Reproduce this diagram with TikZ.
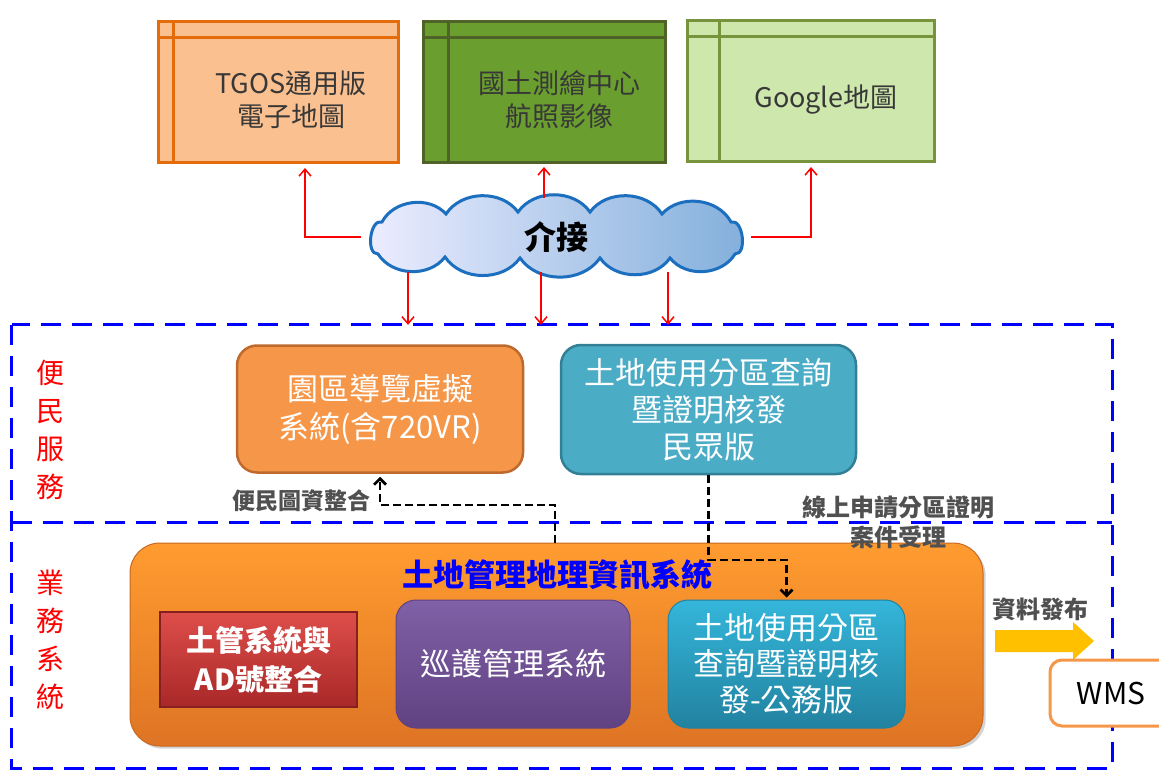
\documentclass[tikz,border=0pt]{standalone}
\usepackage{fontspec}
\setmainfont{Noto Sans CJK TC}
\usepackage{xcolor}
\usetikzlibrary{shapes,arrows,arrows.meta,positioning,shapes.geometric,shadows}

\definecolor{tgosfill}{RGB}{250,192,143}
\definecolor{tgosline}{RGB}{228,108,10}
\definecolor{aerfill}{RGB}{106,158,46}
\definecolor{aerline}{RGB}{79,98,40}
\definecolor{goofill}{RGB}{205,231,172}
\definecolor{gooline}{RGB}{119,147,60}
\definecolor{vrfill}{RGB}{246,150,72}
\definecolor{vrline}{RGB}{190,105,45}
\definecolor{landfill}{RGB}{75,172,198}
\definecolor{landline}{RGB}{49,128,150}
\definecolor{gistop}{RGB}{255,156,48}
\definecolor{gisbot}{RGB}{222,116,36}
\definecolor{adtop}{RGB}{222,78,74}
\definecolor{adbot}{RGB}{168,40,40}
\definecolor{pattop}{RGB}{128,96,166}
\definecolor{patbot}{RGB}{96,66,130}
\definecolor{govtop}{RGB}{52,182,218}
\definecolor{govbot}{RGB}{34,130,160}
\definecolor{cloudline}{RGB}{28,110,190}
\definecolor{pubyellow}{RGB}{255,192,0}
\definecolor{labelgray}{RGB}{80,80,80}

\begin{document}
\begin{tikzpicture}[x=1pt,y=-1pt,
    win/.style={rectangle, line width=3, minimum width=240, minimum height=141},
    wintext/.style={align=center, text=black!78, font=\fontsize{27}{33}\selectfont},
    sysbox/.style={rectangle, rounded corners=20, line width=2.5, align=center,
        text=white, font=\fontsize{31}{37}\selectfont},
    redarrow/.style={red, line width=1.5, -{Straight Barb[length=7pt,width=12pt]}},
    bluedash/.style={blue, line width=3, dash pattern=on 20pt off 11pt},
    flowarrow/.style={black, line width=2.8, dash pattern=on 8pt off 4pt,
        -{Straight Barb[length=6pt,width=12pt]}},
    side/.style={red, align=center, font=\fontsize{28}{38}\selectfont},
    note/.style={labelgray, align=center, font=\bfseries\fontsize{23}{30}\selectfont}]
    \useasboundingbox (0,0) rectangle (1159,773);

    % Map sources
    \node[win, fill=tgosfill, draw=tgosline] (tgos) at (278,92) {};
    \node[win, fill=aerfill, draw=aerline, minimum width=242] (aerial) at (544,92) {};
    \node[win, fill=goofill, draw=gooline, minimum width=247] (google) at (811,91) {};
    % Window frame lines
    \draw[tgosline, line width=3] ([xshift=17]tgos.north west) -- ([xshift=17]tgos.south west);
    \draw[tgosline, line width=3] ([yshift=-18]tgos.north west) -- ([yshift=-18]tgos.north east);
    \draw[aerline, line width=3] ([xshift=27]aerial.north west) -- ([xshift=27]aerial.south west);
    \draw[aerline, line width=3] ([yshift=-18]aerial.north west) -- ([yshift=-18]aerial.north east);
    \draw[gooline, line width=3] ([xshift=33]google.north west) -- ([xshift=33]google.south west);
    \draw[gooline, line width=3] ([yshift=-18]google.north west) -- ([yshift=-18]google.north east);
    \node[wintext] (tgostext) at ([xshift=13,yshift=-8]tgos.center) {TGOS通用版\\電子地圖};
    \node[wintext] (aerialtext) at ([xshift=15,yshift=-8]aerial.center) {國土測繪中心\\航照影像};
    \node[wintext] (googletext) at ([xshift=15,yshift=-9]google.center) {Google地圖};

    % Cloud outline, then its node
    \draw[cloudline, line width=3, left color=blue!7, middle color=white, right color=cloudline!55]
        (378,254) to[bend left=100] (382,222) to[bend left=55] (446,214)
        to[bend left=55] (518,212) to[bend left=55] (590,212) to[bend left=55] (662,214)
        to[bend left=55] (731,222) to[bend left=100] (735,254) to[bend left=55] (670,258)
        to[bend left=55] (600,258) to[bend left=55] (520,258) to[bend left=55] (445,257)
        to[bend left=55] (378,254) -- cycle;
    \node[ellipse, minimum width=390, minimum height=78, inner sep=0,
        font=\bfseries\fontsize{32}{32}\selectfont] (cloud) at (556,237) {介接};

    \draw[redarrow] (cloud.west) -| ([xshift=27,yshift=-4]tgos.south);
    \draw[redarrow] (aerial.south |- cloud.north) -- ([yshift=-3]aerial.south);
    \draw[redarrow] (cloud.east) -| ([yshift=-4]google.south);

    % Service zones
    \node[draw=none, minimum width=1100, minimum height=443, inner sep=0] (outer) at (562,546.5) {};
    \draw[bluedash] (outer.north west) rectangle (outer.south east);
    \draw[bluedash] (outer.west |- 0,522) -- (outer.east |- 0,522);
    \foreach \dx in {-148,-15,112}
        \draw[redarrow] ([xshift=\dx,yshift=4]cloud.south) -- ([xshift=\dx]cloud.south |- outer.north);

    \node[side] (public) at (50,430) {便\\民\\服\\務};
    \node[side] (business) at (50,640) {業\\務\\系\\統};

    % Public services
    \node[sysbox, fill=vrfill, draw=vrline, minimum width=286, minimum height=127,
        font=\fontsize{31}{38}\selectfont] (vr) at (380,409) {園區導覽虛擬\\系統(含720VR)};
    \node[sysbox, fill=landfill, draw=landline, minimum width=295, minimum height=129] (land) at (708.5,409.5) {土地使用分區查詢\\暨證明核發\\民眾版};

    % Business systems
    \node[rectangle, rounded corners=30, minimum width=853, minimum height=203,
        top color=gistop, bottom color=gisbot, draw=gisbot!90!black, line width=1,
        drop shadow={opacity=0.35}] (gis) at (556.5,644.5) {};
    \node[blue, font=\bfseries\fontsize{31}{31}\selectfont] (gistitle) at (557,575) {土地管理地理資訊系統};
    \node[rectangle, minimum width=197, minimum height=95, top color=adtop, bottom color=adbot,
        draw=adbot!80!black, line width=1.5, align=center, text=white,
        font=\bfseries\fontsize{29}{39}\selectfont] (ad) at (258.5,659.5) {土管系統與\\AD號整合};
    \node[sysbox, minimum width=234, minimum height=128, top color=pattop, bottom color=patbot,
        draw=patbot, line width=1] (patrol) at (513,664) {巡護管理系統};
    \node[sysbox, minimum width=237, minimum height=128, top color=govtop, bottom color=govbot,
        draw=govbot, line width=1, font=\fontsize{31}{36}\selectfont] (landgov) at (786.5,664) {土地使用分區\\查詢暨證明核\\發-公務版};

    % Data flows
    \coordinate (bendvr) at (555,505);
    \draw[flowarrow] (bendvr |- gis.north) -- (bendvr) -| ([yshift=-3]vr.south);
    \node[note, anchor=east] (vrnote) at (374,501) {便民圖資整合};
    \coordinate (bendgov) at (0,560);
    \draw[flowarrow] (land.south) -- (land.south |- bendgov) -| ([yshift=2]landgov.north);
    \node[note, font=\bfseries\fontsize{24}{30}\selectfont] (govnote) at (898,522) {線上申請分區證明\\案件受理};

    % Publishing
    \coordinate (pub) at (995,641);
    \fill[pubyellow] (pub) ++(0,-11) -- ++(78,0) -- ++(0,-8) -- ++(21,19)
        -- ++(-21,19) -- ++(0,-8) -- ++(-78,0) -- cycle;
    \node[note, anchor=south, font=\bfseries\fontsize{24}{24}\selectfont] (pubnote) at (1040,624) {資料發布};
    \node[rectangle, rounded corners=12, minimum width=122, minimum height=66, fill=white,
        draw=vrfill, line width=3, font=\fontsize{30}{30}\selectfont] (wms) at (1111,693) {WMS};
\end{tikzpicture}
\end{document}
